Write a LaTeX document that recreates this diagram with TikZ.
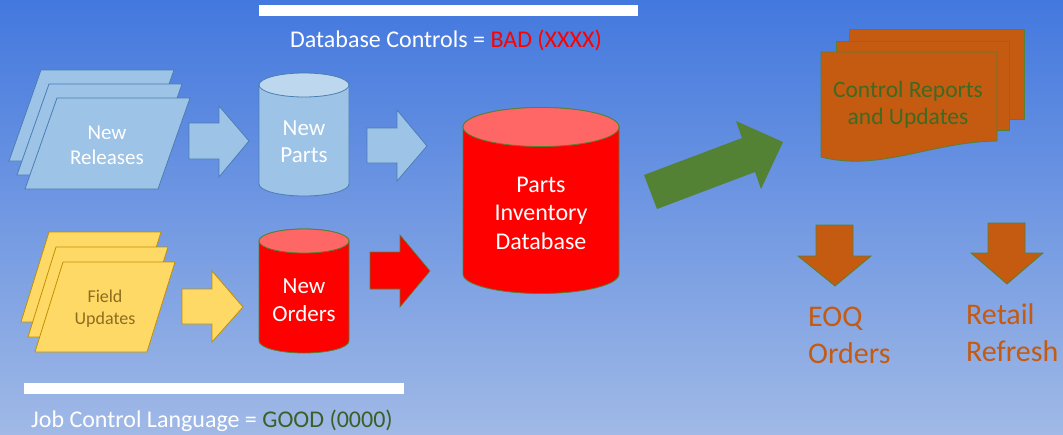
\documentclass[tikz,border=0pt]{standalone}
\usepackage{fontspec}
\setmainfont{Carlito}
\definecolor{bgtop}{HTML}{4378DE}
\definecolor{bgbot}{HTML}{A0B9E6}
\definecolor{relfill}{HTML}{9DC3E6}
\definecolor{relline}{HTML}{4A7EB5}
\definecolor{reltop}{HTML}{BDD7EE}
\definecolor{fldfill}{HTML}{FFD966}
\definecolor{fldline}{HTML}{BF9000}
\definecolor{fldtext}{HTML}{8C6D1F}
\definecolor{dbred}{HTML}{FF0000}
\definecolor{dbtop}{HTML}{FF6666}
\definecolor{leaf}{HTML}{548235}
\definecolor{rust}{HTML}{C55A11}
\definecolor{rpttext}{HTML}{3F6A22}
\definecolor{goodtext}{HTML}{3C5F28}
\newcommand\drum[8]{% cx, half width, top y, bottom y, ry, body, lid, outline
  \filldraw[fill=#6, draw=#8, line width=0.8pt]
    (#1-#2,#4) arc[start angle=180, end angle=360, x radius=#2pt, y radius=#5pt]
    -- (#1+#2,#3) arc[start angle=0, end angle=180, x radius=#2pt, y radius=#5pt] -- cycle;
  \filldraw[fill=#7, draw=#8, line width=0.8pt] (#1,#3) ellipse[x radius=#2pt, y radius=#5pt];
}
\tikzset{
  relsheet/.style={fill=relfill, draw=relline, line width=0.8pt},
  fldsheet/.style={fill=fldfill, draw=fldline, line width=0.8pt},
  rptsheet/.style={fill=rust, draw=leaf, line width=0.8pt},
  bluearrow/.style={fill=relfill, draw=relline, line width=0.8pt},
  yelarrow/.style={fill=fldfill, draw=fldline, line width=0.8pt},
  redarrow/.style={fill=dbred, draw=leaf, line width=0.6pt},
  rustarrow/.style={fill=rust, draw=leaf, line width=0.8pt},
  lbl/.style={align=center, inner sep=0pt, text=white},
}
\begin{document}
\begin{tikzpicture}[x=1pt, y=-1pt]
\useasboundingbox (0,0) rectangle (1063,434);
\shade[top color=bgtop, bottom color=bgbot] (0,0) rectangle (1063,434);

% banner bars and captions
\fill[white] (259,5) rectangle (638,16);
\fill[white] (24,383) rectangle (404,394);
\node[anchor=base west, inner sep=0pt, text=white, font=\fontsize{24}{28}\selectfont] (dbctl) at (290,47)
  {Database Controls = \textcolor{dbred}{BAD (XXXX)}};
\node[anchor=base west, inner sep=0pt, text=white, font=\fontsize{24}{28}\selectfont] (jcl) at (31,427)
  {Job Control Language = \textcolor{goodtext}{GOOD (0000)}};

% new releases stack
\filldraw[relsheet] (41,70) -- (174,70) -- (142,161) -- (9,161) -- cycle;
\filldraw[relsheet] (49,84) -- (182,84) -- (150,175) -- (17,175) -- cycle;
\filldraw[relsheet] (57,98) -- (190,98) -- (158,189) -- (25,189) -- cycle;
\node[lbl, font=\fontsize{21}{25}\selectfont] (rel) at (107,145) {New\\Releases};

% field updates stack
\filldraw[fldsheet] (49,232) -- (161,232) -- (133,322) -- (21,322) -- cycle;
\filldraw[fldsheet] (56,247) -- (168,247) -- (140,337) -- (28,337) -- cycle;
\filldraw[fldsheet] (63,262) -- (175,262) -- (147,352) -- (35,352) -- cycle;
\node[lbl, text=fldtext, font=\fontsize{18}{22}\selectfont] (fld) at (105,309) {Field\\Updates};

% block arrows on the left
\filldraw[bluearrow] (189,123) -- (219,123) -- (219,106) -- (249,141) -- (219,177) -- (219,159) -- (189,159) -- cycle;
\filldraw[bluearrow] (367,128) -- (397,128) -- (397,110) -- (427,146) -- (397,181) -- (397,163) -- (367,163) -- cycle;
\filldraw[yelarrow] (182,289) -- (212,289) -- (212,271) -- (243,307) -- (212,342) -- (212,324) -- (182,324) -- cycle;
\filldraw[redarrow] (370,252) -- (400,252) -- (400,235) -- (430,271) -- (400,307) -- (400,289) -- (370,289) -- cycle;

% storage drums
\drum{304}{45}{85}{184}{12}{relfill}{reltop}{relline}
\node[lbl, font=\fontsize{23}{27}\selectfont] (parts) at (304,142) {New\\Parts};
\drum{304}{45}{241}{341}{12}{dbred}{dbtop}{leaf}
\node[lbl, font=\fontsize{23}{28}\selectfont] (orders) at (304,300) {New\\Orders};
\drum{541}{78}{127}{274}{19.5}{dbred}{dbtop}{leaf}
\node[lbl, font=\fontsize{24}{28.5}\selectfont] (pidb) at (541,213) {Parts\\Inventory\\Database};

% output arrow
\fill[leaf] (644,175) -- (742,138) -- (736,121) -- (783,142) -- (761,189) -- (755,172) -- (657,209) -- cycle;

% report stack
\filldraw[rptsheet] (849,29) rectangle (1024,119);
\filldraw[rptsheet] (836,41) rectangle (1009,130);
\filldraw[rptsheet] (821,52) -- (997,52) -- (997,141) .. controls (930,142) and (880,172) .. (821,157) -- cycle;
\node[lbl, text=rpttext, font=\fontsize{23.5}{27}\selectfont] (rpt) at (908,105) {Control Reports\\and Updates};

% results
\filldraw[rustarrow] (816,225) -- (853,225) -- (853,256) -- (871,256) -- (835,286) -- (798,256) -- (816,256) -- cycle;
\filldraw[rustarrow] (988,223) -- (1025,223) -- (1025,253) -- (1043,253) -- (1007,284) -- (971,253) -- (988,253) -- cycle;
\node[align=left, inner sep=0pt, anchor=west, text=rust, font=\fontsize{30}{37}\selectfont] (eoq) at (808,335) {EOQ\\Orders};
\node[align=left, inner sep=0pt, anchor=west, text=rust, font=\fontsize{30}{37}\selectfont] (retail) at (966,333) {Retail\\Refresh};
\end{tikzpicture}
\end{document}
